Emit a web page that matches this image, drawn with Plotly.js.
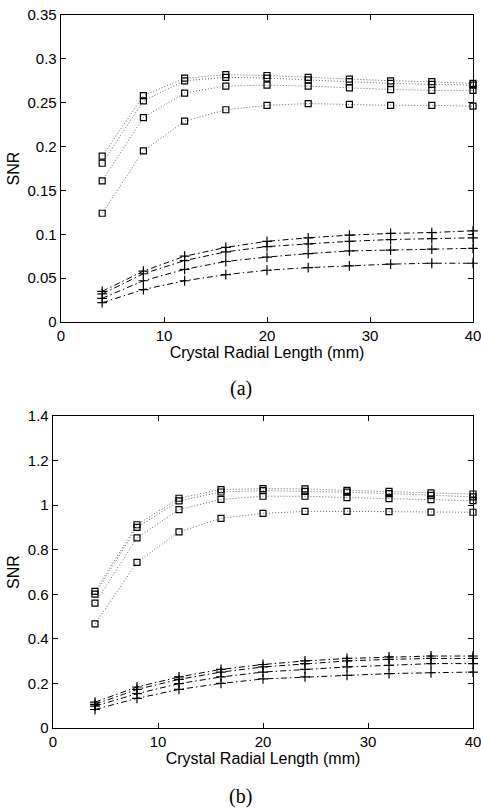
<!DOCTYPE html>
<html>
<head>
<meta charset="utf-8">
<script src="https://cdn.plot.ly/plotly-3.0.1.min.js"></script>
<style>html,body{margin:0;padding:0;background:#fff;}#chart{width:481px;height:808px;}</style>
</head>
<body>
<div id="chart"></div>
<script>
const radialLength = [4, 8, 12, 16, 20, 24, 28, 32, 36, 40];

// Panel (a): square-marker (dotted) series
const aSq1 = [0.189, 0.258, 0.278, 0.282, 0.281, 0.279, 0.277, 0.275, 0.274, 0.272];
const aSq2 = [0.181, 0.252, 0.275, 0.279, 0.278, 0.276, 0.274, 0.272, 0.271, 0.270];
const aSq3 = [0.161, 0.233, 0.261, 0.269, 0.270, 0.269, 0.267, 0.265, 0.264, 0.264];
const aSq4 = [0.124, 0.195, 0.229, 0.242, 0.247, 0.249, 0.248, 0.247, 0.247, 0.246];
// Panel (a): plus-marker (dash-dot) series
const aPl1 = [0.035, 0.058, 0.075, 0.085, 0.092, 0.096, 0.099, 0.101, 0.102, 0.104];
const aPl2 = [0.032, 0.055, 0.070, 0.080, 0.086, 0.089, 0.092, 0.094, 0.095, 0.096];
const aPl3 = [0.027, 0.047, 0.060, 0.069, 0.074, 0.078, 0.081, 0.082, 0.083, 0.084];
const aPl4 = [0.022, 0.037, 0.047, 0.054, 0.059, 0.062, 0.064, 0.066, 0.067, 0.067];

// Panel (b): square-marker (dotted) series
const bSq1 = [0.613, 0.912, 1.031, 1.070, 1.074, 1.073, 1.066, 1.062, 1.055, 1.050];
const bSq2 = [0.601, 0.900, 1.019, 1.059, 1.065, 1.062, 1.058, 1.052, 1.044, 1.037];
const bSq3 = [0.560, 0.853, 0.980, 1.026, 1.040, 1.040, 1.034, 1.029, 1.025, 1.020];
const bSq4 = [0.467, 0.743, 0.880, 0.941, 0.963, 0.972, 0.972, 0.971, 0.969, 0.968];
// Panel (b): plus-marker (dash-dot) series
const bPl1 = [0.116, 0.184, 0.229, 0.263, 0.285, 0.301, 0.312, 0.319, 0.323, 0.323];
const bPl2 = [0.106, 0.173, 0.218, 0.251, 0.274, 0.289, 0.301, 0.308, 0.312, 0.312];
const bPl3 = [0.098, 0.154, 0.199, 0.229, 0.251, 0.263, 0.274, 0.281, 0.289, 0.289];
const bPl4 = [0.083, 0.133, 0.173, 0.200, 0.220, 0.229, 0.236, 0.244, 0.248, 0.251];

const xTicks = [0, 10, 20, 30, 40];
const aYTicks = [0, 0.05, 0.1, 0.15, 0.2, 0.25, 0.3, 0.35];
const bYTicks = [0, 0.2, 0.4, 0.6, 0.8, 1, 1.2, 1.4];
const xTitle = 'Crystal Radial Length (mm)';
const yTitle = 'SNR';
const panelLabels = ['(a)', '(b)'];

function sqTrace(y, xa, ya) {
  return {x: radialLength, y: y, xaxis: xa, yaxis: ya, type: 'scatter', mode: 'lines+markers',
    line: {color: '#666', width: 1, dash: '1px,2px'},
    marker: {symbol: 'square-open', size: 6, color: '#000', line: {width: 1.2, color: '#000'}},
    showlegend: false, cliponaxis: false};
}
function plTrace(y, xa, ya) {
  return {x: radialLength, y: y, xaxis: xa, yaxis: ya, type: 'scatter', mode: 'lines+markers',
    line: {color: '#000', width: 1, dash: '6px,3px,1.5px,3px'},
    marker: {symbol: 'cross-thin-open', size: 7, color: '#000', line: {width: 1.2, color: '#000'}},
    showlegend: false, cliponaxis: false};
}

const data = [
  sqTrace(aSq1, 'x', 'y'), sqTrace(aSq2, 'x', 'y'), sqTrace(aSq3, 'x', 'y'), sqTrace(aSq4, 'x', 'y'),
  plTrace(aPl1, 'x', 'y'), plTrace(aPl2, 'x', 'y'), plTrace(aPl3, 'x', 'y'), plTrace(aPl4, 'x', 'y'),
  sqTrace(bSq1, 'x2', 'y2'), sqTrace(bSq2, 'x2', 'y2'), sqTrace(bSq3, 'x2', 'y2'), sqTrace(bSq4, 'x2', 'y2'),
  plTrace(bPl1, 'x2', 'y2'), plTrace(bPl2, 'x2', 'y2'), plTrace(bPl3, 'x2', 'y2'), plTrace(bPl4, 'x2', 'y2')
];

const tickFont = {family: 'Liberation Sans, Arial, sans-serif', size: 15, color: '#000'};
const titleFont = {family: 'Liberation Sans, Arial, sans-serif', size: 16, color: '#000'};

function xAxis(domain, anchor) {
  return {domain: domain, anchor: anchor, range: [0, 40], tickvals: xTicks, ticktext: xTicks.map(String),
    ticks: 'inside', ticklen: 5, tickwidth: 1, tickcolor: '#000', mirror: 'ticks',
    showline: true, linecolor: '#000', linewidth: 1.3, showgrid: false, zeroline: false,
    ticklabeloverflow: 'allow',
    tickfont: tickFont, title: {text: xTitle, font: titleFont, standoff: 2}};
}
function yAxis(domain, anchor, range, ticks) {
  return {domain: domain, anchor: anchor, range: range, tickvals: ticks, ticktext: ticks.map(String),
    ticks: 'inside', ticklen: 5, tickwidth: 1, tickcolor: '#000', mirror: 'ticks',
    showline: true, linecolor: '#000', linewidth: 1.3, showgrid: false, zeroline: false,
    ticklabeloverflow: 'allow',
    tickfont: tickFont, title: {text: yTitle, font: titleFont, standoff: 4}};
}

const layout = {
  width: 481, height: 808,
  margin: {l: 0, r: 0, t: 0, b: 0},
  paper_bgcolor: '#fff', plot_bgcolor: '#fff',
  xaxis: xAxis([61 / 481, 473 / 481], 'y'),
  yaxis: yAxis([486 / 808, 793 / 808], 'x', [0, 0.35], aYTicks),
  xaxis2: xAxis([53 / 481, 473 / 481], 'y2'),
  yaxis2: yAxis([80 / 808, 392 / 808], 'x2', [0, 1.4], bYTicks),
  annotations: [
    {text: panelLabels[0], xref: 'paper', yref: 'paper', x: 0.5, y: (808 - 388) / 808, xanchor: 'center', yanchor: 'middle',
     showarrow: false, font: {family: 'Liberation Serif, Times New Roman, serif', size: 20, color: '#000'}},
    {text: panelLabels[1], xref: 'paper', yref: 'paper', x: 0.5, y: (808 - 796) / 808, xanchor: 'center', yanchor: 'middle',
     showarrow: false, font: {family: 'Liberation Serif, Times New Roman, serif', size: 20, color: '#000'}}
  ]
};

Plotly.newPlot('chart', data, layout, {displayModeBar: false, staticPlot: true});
</script>
</body>
</html>
